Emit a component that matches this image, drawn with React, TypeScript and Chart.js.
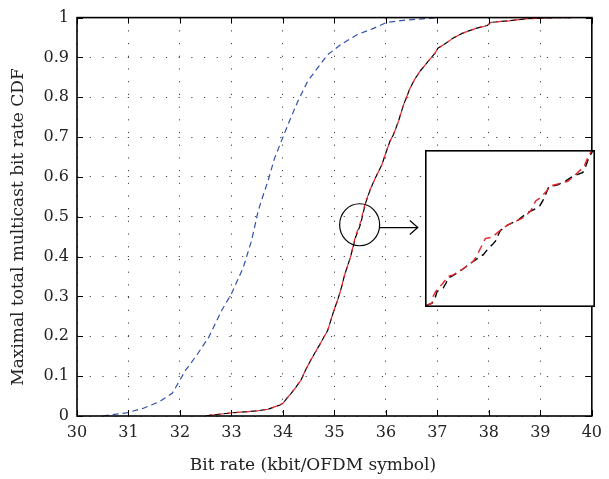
import React, { useEffect, useRef } from "react";
import { Chart, registerables } from "chart.js";
Chart.register(...registerables);

// ---------- data ----------
const xTickValues = [30, 31, 32, 33, 34, 35, 36, 37, 38, 39, 40];
const yTickValues = [0, 0.1, 0.2, 0.3, 0.4, 0.5, 0.6, 0.7, 0.8, 0.9, 1];
const yTickLabels = ["0", "0.1", "0.2", "0.3", "0.4", "0.5", "0.6", "0.7", "0.8", "0.9", "1"];

const blueRate = [30.5, 30.96, 31.28, 31.6, 31.85, 31.98, 32.11, 32.3, 32.56, 32.81, 33.0, 33.23, 33.39, 33.52, 33.58, 33.71, 33.84, 33.97, 34.1, 34.29, 34.48, 34.67, 34.87, 35.12, 35.44, 35.76, 36.02, 36.4, 36.85, 37.0];
const blueCdf = [0, 0.008, 0.019, 0.036, 0.057, 0.086, 0.115, 0.148, 0.198, 0.265, 0.307, 0.373, 0.44, 0.515, 0.54, 0.59, 0.648, 0.69, 0.732, 0.79, 0.84, 0.873, 0.907, 0.932, 0.957, 0.973, 0.988, 0.994, 0.998, 1.0];

const blackRate = [32.5, 32.6, 32.8, 33.0, 33.33, 33.5, 33.71, 33.94, 34.0, 34.08, 34.16, 34.25, 34.35, 34.45, 34.54, 34.62, 34.71, 34.87, 34.93, 34.99, 35.06, 35.12, 35.2, 35.31, 35.41, 35.51, 35.6, 35.7, 35.83, 35.92, 35.99, 36.08, 36.15, 36.25, 36.34, 36.47, 36.56, 36.66, 36.82, 36.95, 37.01, 37.17, 37.3, 37.49, 37.75, 37.97, 38.04, 38.39, 38.72, 39.1, 39.42, 39.6];
const blackCdf = [0, 0.002, 0.005, 0.008, 0.011, 0.013, 0.017, 0.0275, 0.032, 0.045, 0.057, 0.072, 0.09, 0.118, 0.14, 0.158, 0.178, 0.215, 0.24, 0.265, 0.29, 0.315, 0.355, 0.398, 0.448, 0.482, 0.532, 0.57, 0.607, 0.63, 0.657, 0.69, 0.707, 0.742, 0.78, 0.823, 0.845, 0.865, 0.89, 0.91, 0.923, 0.936, 0.948, 0.961, 0.973, 0.98, 0.988, 0.992, 0.997, 0.999, 1.0, 1.0];

const redRate = [32.5, 32.6, 32.8, 33.0, 33.33, 33.5, 33.71, 33.94, 34.0, 34.08, 34.16, 34.25, 34.35, 34.45, 34.54, 34.62, 34.71, 34.87, 34.93, 34.99, 35.06, 35.12, 35.2, 35.31, 35.41, 35.5, 35.6, 35.7, 35.83, 35.92, 35.99, 36.08, 36.15, 36.25, 36.34, 36.47, 36.56, 36.66, 36.82, 36.95, 37.01, 37.17, 37.3, 37.49, 37.75, 37.97, 38.04, 38.39, 38.72, 39.1, 39.42, 39.6];
const redCdf = [0, 0.002, 0.005, 0.008, 0.011, 0.013, 0.017, 0.0275, 0.032, 0.045, 0.057, 0.072, 0.09, 0.118, 0.14, 0.158, 0.178, 0.215, 0.24, 0.265, 0.29, 0.315, 0.355, 0.398, 0.452, 0.484, 0.535, 0.57, 0.607, 0.63, 0.657, 0.69, 0.707, 0.742, 0.78, 0.823, 0.845, 0.865, 0.89, 0.91, 0.923, 0.936, 0.948, 0.961, 0.973, 0.98, 0.988, 0.992, 0.997, 0.999, 1.0, 1.0];

// inset (zoomed view)
const insetBlackRate = [35.401, 35.407, 35.410, 35.412, 35.418, 35.421, 35.423, 35.428, 35.438, 35.448, 35.458, 35.462, 35.467, 35.470, 35.473, 35.475, 35.482, 35.492, 35.502, 35.512, 35.514, 35.517, 35.520, 35.523, 35.532, 35.540, 35.548, 35.557, 35.560, 35.563, 35.567];
const insetBlackCdf = [0.4507, 0.4519, 0.4544, 0.4577, 0.4594, 0.4619, 0.4644, 0.4657, 0.469, 0.4727, 0.476, 0.4785, 0.481, 0.4827, 0.486, 0.488, 0.4907, 0.493, 0.4969, 0.4994, 0.5002, 0.5027, 0.506, 0.5097, 0.5107, 0.5127, 0.5152, 0.5169, 0.5202, 0.5244, 0.5277];
const insetRedRate = [35.401, 35.407, 35.408, 35.411, 35.418, 35.423, 35.428, 35.438, 35.448, 35.452, 35.457, 35.460, 35.467, 35.473, 35.482, 35.492, 35.498, 35.505, 35.510, 35.515, 35.521, 35.525, 35.542, 35.550, 35.558, 35.562, 35.566];
const insetRedCdf = [0.4507, 0.4519, 0.4552, 0.458, 0.4619, 0.4652, 0.466, 0.469, 0.4727, 0.476, 0.481, 0.484, 0.4847, 0.4874, 0.4907, 0.493, 0.4944, 0.4977, 0.5027, 0.5044, 0.5077, 0.5102, 0.5124, 0.516, 0.5197, 0.5244, 0.528];

const xTitle = "Bit rate (kbit/OFDM symbol)";
const yTitle = "Maximal total multicast bit rate CDF";

const FONT = "'DejaVu Serif', 'Liberation Serif', serif";

function pts(xs: number[], ys: number[]) {
  return xs.map((x, i) => ({ x, y: ys[i] }));
}

const framePlugin = {
  id: "frame",
  afterDatasetsDraw(chart: any) {
    const { ctx, chartArea: a, scales } = chart;
    const x = scales.x, y = scales.y;
    ctx.save();
    ctx.strokeStyle = "#000";
    ctx.lineWidth = 1;
    const L = 6;
    ctx.beginPath();
    xTickValues.forEach((v) => {
      const px = Math.round(x.getPixelForValue(v)) + 0.5;
      ctx.moveTo(px, a.bottom); ctx.lineTo(px, a.bottom - L);
      ctx.moveTo(px, a.top); ctx.lineTo(px, a.top + L);
    });
    yTickValues.forEach((v) => {
      const py = Math.round(y.getPixelForValue(v)) + 0.5;
      ctx.moveTo(a.left, py); ctx.lineTo(a.left + L, py);
      ctx.moveTo(a.right, py); ctx.lineTo(a.right - L, py);
    });
    ctx.stroke();
    ctx.lineWidth = 1.6;
    ctx.strokeRect(a.left, a.top, a.right - a.left, a.bottom - a.top);
    // circle annotation
    ctx.lineWidth = 1.2;
    const cx = x.getPixelForValue(35.49), cy = y.getPixelForValue(0.48);
    ctx.beginPath();
    ctx.ellipse(cx, cy, 20, 21, 0, 0, Math.PI * 2);
    ctx.stroke();
    // arrow
    const ax0 = x.getPixelForValue(35.87), ax1 = x.getPixelForValue(36.62), ay = y.getPixelForValue(0.473);
    ctx.beginPath();
    ctx.moveTo(ax0, ay); ctx.lineTo(ax1, ay);
    ctx.moveTo(ax1 - 8, ay - 7); ctx.lineTo(ax1, ay); ctx.lineTo(ax1 - 8, ay + 7);
    ctx.stroke();
    // axis titles (placed as in the original figure)
    ctx.fillStyle = "#222";
    ctx.font = `17px ${FONT}`;
    ctx.textAlign = "center";
    ctx.textBaseline = "middle";
    ctx.fillText(xTitle, 313, 466);
    ctx.save();
    ctx.translate(18.5, 227);
    ctx.rotate(-Math.PI / 2);
    ctx.fillText(yTitle, 0, 0);
    ctx.restore();
    ctx.restore();
  },
};

const insetFrame = {
  id: "insetFrame",
  beforeDraw(chart: any) {
    const { ctx, width, height } = chart;
    ctx.save();
    ctx.fillStyle = "#fff";
    ctx.fillRect(0, 0, width, height);
    ctx.restore();
  },
  afterDraw(chart: any) {
    const { ctx, width, height } = chart;
    ctx.save();
    ctx.strokeStyle = "#000";
    ctx.lineWidth = 1.6;
    ctx.strokeRect(0.8, 0.8, width - 1.6, height - 1.6);
    ctx.restore();
  },
};

export default function App() {
  const mainRef = useRef<HTMLCanvasElement>(null);
  const insetRef = useRef<HTMLCanvasElement>(null);

  useEffect(() => {
    const tickFont = { family: FONT, size: 16 };
    const main = new Chart(mainRef.current as HTMLCanvasElement, {
      type: "line",
      data: {
        datasets: [
          { data: pts(blueRate, blueCdf), borderColor: "#3152a8", borderWidth: 1.2, borderDash: [6, 4], pointRadius: 0, fill: false, tension: 0 },
          { data: pts(redRate, redCdf), borderColor: "#e8242a", borderWidth: 1.2, borderDash: [5, 4], borderDashOffset: 5, pointRadius: 0, fill: false, tension: 0 },
          { data: pts(blackRate, blackCdf), borderColor: "#000", borderWidth: 1.2, borderDash: [6, 3], pointRadius: 0, fill: false, tension: 0 },
        ],
      },
      options: {
        animation: false,
        responsive: false,
        devicePixelRatio: 1,
        layout: { padding: { top: 16, right: 12, left: 0, bottom: 0 } },
        plugins: { legend: { display: false }, tooltip: { enabled: false } },
        scales: {
          x: {
            type: "linear",
            min: 30, max: 40,
            afterFit: (s: any) => { s.height = 63; },
            afterBuildTicks: (s: any) => { s.ticks = xTickValues.map((v) => ({ value: v })); },
            ticks: { font: tickFont, color: "#222", padding: 7, maxRotation: 0, callback: (v: any) => String(v) },
            grid: { color: "#444", lineWidth: 1, drawTicks: false },
            border: { display: false, dash: [1.2, 11.5] },
            title: { display: false },
          },
          y: {
            type: "linear",
            min: 0, max: 1,
            afterFit: (s: any) => { s.width = 77; },
            afterBuildTicks: (s: any) => { s.ticks = yTickValues.map((v) => ({ value: v })); },
            ticks: {
              font: tickFont, color: "#222", padding: 8,
              callback: (v: any) => { const i = yTickValues.findIndex((t) => Math.abs(t - v) < 1e-9); return i >= 0 ? yTickLabels[i] : ""; },
            },
            grid: { color: "#444", lineWidth: 1, drawTicks: false },
            border: { display: false, dash: [1.2, 11.5] },
            title: { display: false },
          },
        },
      },
      plugins: [framePlugin],
    } as any);

    const inset = new Chart(insetRef.current as HTMLCanvasElement, {
      type: "line",
      data: {
        datasets: [
          { data: pts(insetRedRate, insetRedCdf), borderColor: "#e8242a", borderWidth: 1.4, borderDash: [8, 5], pointRadius: 0, fill: false, tension: 0 },
          { data: pts(insetBlackRate, insetBlackCdf), borderColor: "#000", borderWidth: 1.4, borderDash: [8, 5], pointRadius: 0, fill: false, tension: 0 },
        ],
      },
      options: {
        animation: false,
        responsive: false,
        devicePixelRatio: 1,
        layout: { padding: 0 },
        plugins: { legend: { display: false }, tooltip: { enabled: false } },
        scales: {
          x: { type: "linear", min: 35.4, max: 35.569, display: false },
          y: { type: "linear", min: 0.45, max: 0.528, display: false },
        },
      },
      plugins: [insetFrame],
    } as any);

    return () => { main.destroy(); inset.destroy(); };
  }, []);

  return (
    <div style={{ position: "absolute", left: 0, top: 0, width: 609, height: 479, background: "#fff" }}>
      <canvas ref={mainRef} width={609} height={479} style={{ position: "absolute", left: 0, top: 0, width: 609, height: 479 }} />
      <canvas ref={insetRef} width={170} height={157} style={{ position: "absolute", left: 425, top: 150, width: 170, height: 157 }} />
    </div>
  );
}
